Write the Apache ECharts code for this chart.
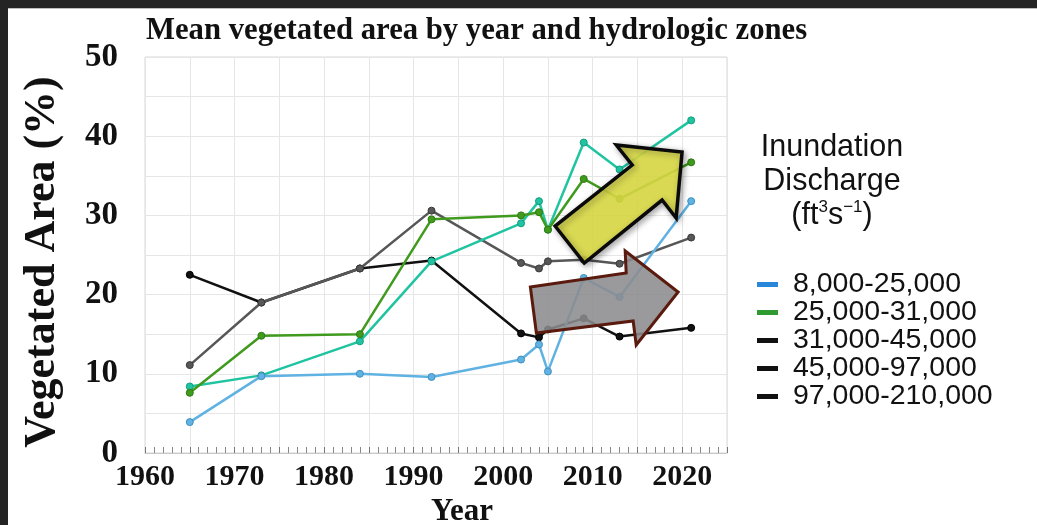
<!DOCTYPE html>
<html>
<head>
<meta charset="utf-8">
<script src="https://cdn.jsdelivr.net/npm/echarts@6/dist/echarts.min.js"></script>
<style>
html,body{margin:0;padding:0;background:#fff;}
#chart{position:absolute;left:0;top:0;width:1037px;height:525px;}
#bandTop{position:absolute;left:0;top:0;width:1037px;height:8px;background:#242424;border-bottom:1px solid #bdbdbd;z-index:5;}
#bandLeft{position:absolute;left:0;top:0;width:8px;height:525px;background:#242424;z-index:5;}
</style>
</head>
<body>
<div id="chart"></div>
<div id="bandTop"></div>
<div id="bandLeft"></div>
<script>
// ---- data ----
const years = [1965, 1973, 1984, 1992, 2002, 2004, 2005, 2009, 2013, 2021];
const seriesNames = ['8,000-25,000', '25,000-31,000', '31,000-45,000', '45,000-97,000', '97,000-210,000'];
const zone1 = [3.9, 9.7, 10.0, 9.6, 11.8, 13.7, 10.3, 22.1, 19.7, 31.8];
const zone2 = [7.6, 14.8, 15.0, 29.5, 30.0, 30.4, 28.2, 34.6, 32.1, 36.7];
const zone3 = [8.4, 9.8, 14.1, 24.2, 29.0, 31.8, 28.2, 39.2, 35.8, 42.0];
const zone4 = [11.1, 19.0, 23.3, 30.6, 24.0, 23.3, 24.2, 24.4, 23.9, 27.2];
const zone5 = [22.5, 19.0, 23.3, 24.3, 15.1, 14.6, 15.6, 17.0, 14.7, 15.8];
const yTickLabels = [0, 10, 20, 30, 40, 50];
const xTickLabels = [1960, 1970, 1980, 1990, 2000, 2010, 2020];
// annotation arrows, in data units [year, %]
const arrowUp = [[2005.8, 28.66], [2009.06, 23.99], [2017.75, 31.94], [2019.32, 29.67], [2019.98, 38.0], [2012.63, 38.89], [2014.41, 36.36]];
const arrowRight = [[2003.04, 20.96], [2013.74, 22.73], [2013.63, 25.51], [2019.54, 20.33], [2014.86, 13.64], [2014.52, 16.67], [2003.71, 15.15]];

// ---- styles ----
const lineColors = ['#5fb2e2', '#3f9a1e', '#20c4a0', '#575757', '#111111'];
const markerBorders = ['#3f8fc0', '#2e7a12', '#159c80', '#3a3a3a', '#000000'];
const legendColors = ['#2a86d8', '#2f9a2f', '#111111', '#111111', '#111111'];
const serif = 'Liberation Serif';
const sans = 'Liberation Sans';

const zones = [zone1, zone2, zone3, zone4, zone5];
const chart = echarts.init(document.getElementById('chart'));

const series = zones.map((vals, i) => ({
  name: seriesNames[i],
  type: 'line',
  data: years.map((y, k) => [y, vals[k]]),
  symbol: 'circle',
  symbolSize: 7,
  z: 3 + (4 - i),
  lineStyle: { color: lineColors[i], width: 2.5 },
  itemStyle: { color: lineColors[i], borderColor: markerBorders[i], borderWidth: 1 },
  emphasis: { disabled: true }
}));

chart.setOption({
  animation: false,
  backgroundColor: '#ffffff',
  title: {
    text: 'Mean vegetated area by year and hydrologic zones',
    left: 141, top: 11,
    textStyle: { fontFamily: serif, fontWeight: 'bold', fontSize: 30.7, color: '#111' }
  },
  legend: {
    orient: 'vertical',
    left: 752, top: 265,
    itemWidth: 21, itemHeight: 5,
    itemGap: -1,
    icon: 'rect',
    selectedMode: false,
    data: seriesNames.map((n, i) => ({ name: n, itemStyle: { color: legendColors[i], borderWidth: 0 } })),
    textStyle: { fontFamily: sans, fontSize: 28.5, color: '#111', lineHeight: 28.5, padding: [0, 0, 0, 10] }
  },
  grid: { left: 145, right: 310, top: 57, bottom: 72, outerBoundsMode: 'none', containLabel: false,
    show: true, borderColor: '#d8d8d8', borderWidth: 1, backgroundColor: '#fff' },
  xAxis: {
    type: 'value', min: 1960, max: 2025, interval: 5,
    name: 'Year', nameLocation: 'middle', nameGap: 42,
    nameTextStyle: { fontFamily: serif, fontWeight: 'bold', fontSize: 31, color: '#111', padding: [0, 0, 0, 52] },
    axisLine: { show: true, lineStyle: { color: '#c8c8c8', width: 1 } },
    axisTick: { show: true, inside: true, length: 6, lineStyle: { color: '#777', width: 1 } },
    minorTick: { show: true, splitNumber: 5, length: 6, lineStyle: { color: '#888', width: 1 } },
    splitLine: { show: true, lineStyle: { color: '#e6e6e6', width: 1 } },
    axisLabel: {
      margin: 9,
      fontFamily: serif, fontWeight: 'bold', fontSize: 30, color: '#111',
      formatter: v => (xTickLabels.indexOf(v) >= 0 ? String(v) : '')
    }
  },
  yAxis: {
    type: 'value', min: 0, max: 50, interval: 5,
    name: 'Vegetated Area (%)', nameLocation: 'middle', nameGap: 80, nameRotate: 90,
    nameTextStyle: { fontFamily: serif, fontWeight: 'bold', fontSize: 44, color: '#111', padding: [0, 14, 0, 0] },
    axisLine: { show: false },
    axisTick: { show: false },
    splitLine: { show: true, lineStyle: { color: '#e6e6e6', width: 1 } },
    axisLabel: {
      margin: 27,
      fontFamily: serif, fontWeight: 'bold', fontSize: 33, color: '#111',
      formatter: v => (yTickLabels.indexOf(v) >= 0 ? String(v) : '')
    }
  },
  series: series
});

function drawAnnotations() {
  const toPx = pts => pts.map(p => chart.convertToPixel({ gridIndex: 0 }, p));
  chart.setOption({
    graphic: [
      {
        type: 'text', x: 832, y: 131,
        style: {
          text: 'Inundation\nDischarge\n(ft{sup|3}s{sup|−1})',
          fontFamily: sans, fontSize: 30.5, lineHeight: 34, fill: '#111', align: 'center',
          rich: { sup: { fontFamily: sans, fontSize: 17, verticalAlign: 'top', lineHeight: 34, padding: [0, 0, 12, 0] } }
        },
        z: 10
      },
      {
        type: 'polygon', z: 20,
        shape: { points: toPx(arrowRight) },
        style: { fill: 'rgba(140,140,142,0.88)', stroke: '#5a1a0e', lineWidth: 3, lineJoin: 'miter' }
      },
      {
        type: 'polygon', z: 21,
        shape: { points: toPx(arrowUp) },
        style: { fill: 'rgba(222,222,70,0.88)', stroke: '#0a0a0a', lineWidth: 3.5, lineJoin: 'miter',
          shadowBlur: 6, shadowColor: 'rgba(0,0,0,0.35)', shadowOffsetX: 2, shadowOffsetY: 2 }
      }
    ]
  });
}
drawAnnotations();
</script>
</body>
</html>
